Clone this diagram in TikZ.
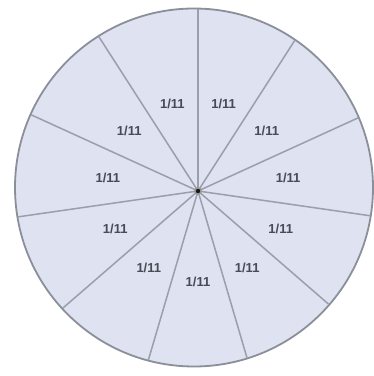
\documentclass[tikz,border=0pt]{standalone}
\usepackage{fontspec}
\setmainfont{Liberation Sans}
\usetikzlibrary{calc}
\definecolor{pief}{HTML}{DEE2F1}
\definecolor{piel}{HTML}{9A9FAB}
\definecolor{piet}{HTML}{474B55}
\begin{document}
\begin{tikzpicture}[x=1pt,y=1pt,
  slice/.style={draw=piel,line width=1.5pt},
  rim/.style={draw=piel!90!black,line width=1.8pt,fill=pief},
  lab/.style={text=piet,font=\fontsize{13}{14}\selectfont\bfseries,inner sep=0pt}]
\useasboundingbox (0,0) rectangle (374,376);
\coordinate (c) at (194,188.5);
\coordinate (h) at (198,185);
\filldraw[rim] (c) circle (179);
\begin{scope}
\clip (c) circle (178.5);
\foreach \i in {0,...,10}{
  \draw[slice] (h) -- ++({90-\i*360/11}:400);
}
\end{scope}
\foreach \i in {0,...,10}{
  \node[lab] (l\i) at ($(h)+({90-(\i+0.5)*360/11}:91)$) {1/11};
}
\fill[black!40] (h) circle (4);
\fill[black!90] (h) circle (2.2);
\end{tikzpicture}
\end{document}
